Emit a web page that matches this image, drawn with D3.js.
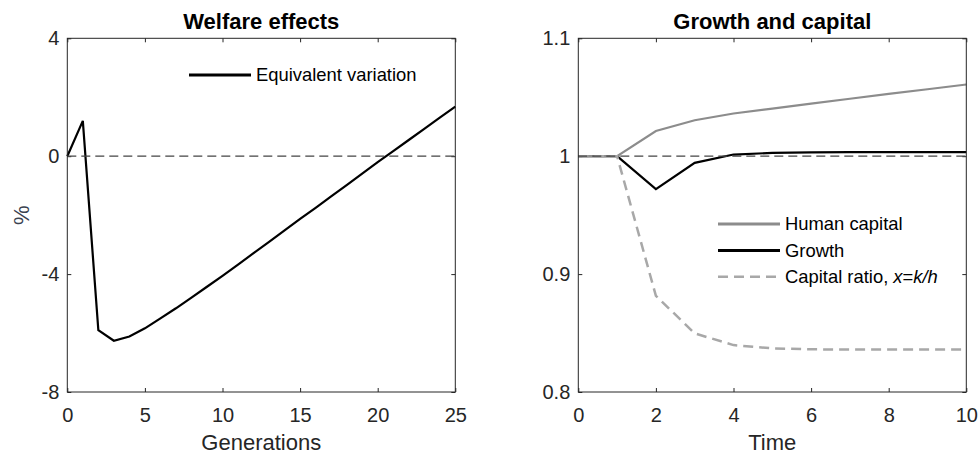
<!DOCTYPE html>
<html>
<head>
<meta charset="utf-8">
<script src="https://cdn.jsdelivr.net/npm/d3@7"></script>
<style>
  body { margin: 0; background: #fff; }
  svg { font-family: "Liberation Sans", Arial, sans-serif; }
</style>
</head>
<body>
<svg id="chart" width="979" height="455"></svg>
<script>
// welfare panel
const generations = d3.range(0, 26);
const equivVariation = [0, 1.2, -5.9, -6.26, -6.12, -5.84, -5.5, -5.16, -4.8, -4.43, -4.06,
  -3.68, -3.29, -2.91, -2.52, -2.13, -1.75, -1.36, -0.98, -0.59, -0.2, 0.17, 0.55, 0.93, 1.31, 1.68];
const welfareXTicks = [0, 5, 10, 15, 20, 25];
const welfareYTicks = [-8, -4, 0, 4];

// growth panel
const time = d3.range(0, 11);
const humanCapital = [1, 1, 1.0214, 1.0305, 1.0362, 1.0404, 1.0446, 1.0487, 1.0528, 1.0568, 1.0608];
const growth = [1, 1, 0.972, 0.9944, 1.0014, 1.0028, 1.0033, 1.0034, 1.0034, 1.0034, 1.0034];
const capitalRatio = [1, 1, 0.8816, 0.8497, 0.8398, 0.837, 0.8362, 0.836, 0.836, 0.836, 0.836];
const growthXTicks = [0, 2, 4, 6, 8, 10];
const growthYTicks = [0.8, 0.9, 1, 1.1];
const growthYLabels = ["0.8", "0.9", "1", "1.1"];

const svg = d3.select("svg#chart");
const plotTop = 38.3, plotBottom = 392;
const axisColor = "#262626";

function drawPanel(opts) {
  const x = d3.scaleLinear().domain(opts.xDomain).range([opts.left, opts.right]);
  const y = d3.scaleLinear().domain(opts.yDomain).range([plotBottom, plotTop]);
  const g = svg.append("g");

  // axes, ticks pointing inward on all sides
  const bottomAxis = g.append("g").attr("transform", `translate(0,${plotBottom})`)
    .call(d3.axisBottom(x).tickValues(opts.xTicks).tickSize(-4).tickSizeOuter(0).tickPadding(16));
  g.append("g").attr("transform", `translate(0,${plotTop})`)
    .call(d3.axisTop(x).tickValues(opts.xTicks).tickSize(-4).tickSizeOuter(0).tickFormat(""));
  g.append("g").attr("transform", `translate(${opts.left},0)`)
    .call(d3.axisLeft(y).tickValues(opts.yTicks).tickSize(-4).tickSizeOuter(0).tickPadding(8)
      .tickFormat((d, i) => opts.yLabels ? opts.yLabels[i] : d));
  g.append("g").attr("transform", `translate(${opts.right},0)`)
    .call(d3.axisRight(y).tickValues(opts.yTicks).tickSize(-4).tickSizeOuter(0).tickFormat(""));

  g.selectAll(".domain").remove();
  g.selectAll(".tick line").attr("stroke", axisColor);
  g.selectAll(".tick text").attr("font-size", 20).attr("fill", axisColor)
    .attr("font-family", "'Liberation Sans', Arial, sans-serif");
  bottomAxis.selectAll(".tick text").attr("dy", "0.71em");

  // data lines, in drawing order (growth lies under human capital)
  const drawOrder = opts.drawOrder || opts.series.map((s, i) => i);
  drawOrder.forEach(i => {
    const s = opts.series[i];
    const line = d3.line().x((d, j) => x(opts.xs[j])).y(d => y(d));
    g.append("path")
      .datum(s.values)
      .attr("d", line)
      .attr("fill", "none")
      .attr("stroke", s.color)
      .attr("stroke-width", s.dash ? 2.5 : 2.2)
      .attr("stroke-dasharray", s.dash || null)
      .attr("stroke-linejoin", "miter");
  });

  // reference line
  g.append("line")
    .attr("x1", opts.left).attr("x2", opts.right)
    .attr("y1", y(opts.refValue)).attr("y2", y(opts.refValue))
    .attr("stroke", "#444").attr("stroke-width", 1.2).attr("stroke-dasharray", "9,5");

  // frame
  g.append("rect")
    .attr("x", opts.left).attr("y", plotTop)
    .attr("width", opts.right - opts.left).attr("height", plotBottom - plotTop)
    .attr("fill", "none").attr("stroke", axisColor).attr("stroke-width", 1);

  // title
  g.append("text")
    .attr("x", (opts.left + opts.right) / 2).attr("y", 28.5)
    .attr("text-anchor", "middle").attr("font-size", 22).attr("font-weight", "bold")
    .attr("fill", "#000").text(opts.title);

  // x label
  g.append("text")
    .attr("x", (opts.left + opts.right) / 2).attr("y", 450)
    .attr("text-anchor", "middle").attr("font-size", 22).attr("fill", axisColor)
    .text(opts.xLabel);

  if (opts.yLabel) {
    g.append("text")
      .attr("transform", `translate(29,${(plotTop + plotBottom) / 2}) rotate(-90)`)
      .attr("text-anchor", "middle").attr("font-size", 22).attr("fill", "#3a4250")
      .text(opts.yLabel);
  }

  // legend
  opts.series.forEach((s, i) => {
    const ly = opts.legend.y + i * opts.legend.step;
    g.append("line")
      .attr("x1", opts.legend.x).attr("x2", opts.legend.x + 62)
      .attr("y1", ly).attr("y2", ly)
      .attr("stroke", s.color).attr("stroke-width", s.dash ? 2.5 : 3)
      .attr("stroke-dasharray", s.dash || null);
    const t = g.append("text")
      .attr("x", opts.legend.x + 67).attr("y", ly)
      .attr("dy", "0.35em").attr("font-size", 18.4).attr("fill", "#000");
    s.label.forEach(part => {
      t.append("tspan").attr("font-style", part.italic ? "italic" : null).text(part.text);
    });
  });
}

drawPanel({
  left: 67.3, right: 455.3,
  xDomain: [0, 25], yDomain: [-8, 4],
  xTicks: welfareXTicks, yTicks: welfareYTicks,
  xs: generations,
  refValue: 0,
  title: "Welfare effects", xLabel: "Generations", yLabel: "%",
  legend: { x: 189, y: 75, step: 26 },
  series: [
    { values: equivVariation, color: "#000", label: [{ text: "Equivalent variation" }] }
  ]
});

drawPanel({
  left: 578.3, right: 966.3,
  xDomain: [0, 10], yDomain: [0.8, 1.1],
  xTicks: growthXTicks, yTicks: growthYTicks, yLabels: growthYLabels,
  xs: time,
  refValue: 1,
  title: "Growth and capital", xLabel: "Time",
  legend: { x: 718, y: 224, step: 26.4 },
  drawOrder: [1, 0, 2],
  series: [
    { values: humanCapital, color: "#8c8c8c", label: [{ text: "Human capital" }] },
    { values: growth, color: "#000", label: [{ text: "Growth" }] },
    { values: capitalRatio, color: "#a8a8a8", dash: "10,6",
      label: [{ text: "Capital ratio, " }, { text: "x", italic: true }, { text: "=" }, { text: "k/h", italic: true }] }
  ]
});
</script>
</body>
</html>
